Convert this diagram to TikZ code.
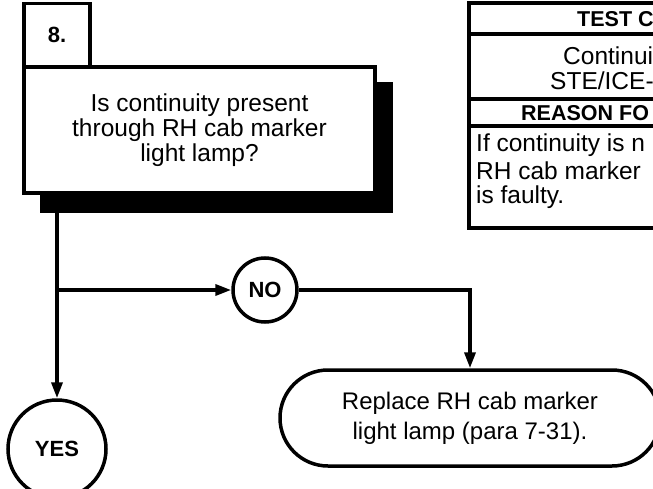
\documentclass[tikz,border=0pt]{standalone}
\usepackage{fontspec}
\setmainfont{Liberation Sans}
\usetikzlibrary{arrows.meta}
\begin{document}
\begin{tikzpicture}[x=1pt,y=-1pt,
  ln/.style={line width=3.5pt},
  arr/.style={line width=3.5pt,-{Triangle[length=16pt,width=11pt]}},
  txt/.style={font=\fontsize{24.5}{25}\selectfont, align=center},
  txtb/.style={font=\fontsize{24}{30}\selectfont, align=center},
  bld/.style={font=\fontsize{22}{25}\selectfont\bfseries},
  box/.style={draw, line width=3.5pt, fill=white, inner sep=0pt},
  circ/.style={circle, draw, line width=3.5pt, fill=white, inner sep=0pt, font=\fontsize{22}{25}\selectfont\bfseries},
  tb/.style={anchor=west, inner sep=0pt, font=\fontsize{24.5}{25}\selectfont},
  tbh/.style={anchor=west, inner sep=0pt, font=\fontsize{21.5}{25}\selectfont\bfseries}
]
\useasboundingbox (0,0) rectangle (653,489);
\clip (0,0) rectangle (653,489);
% question block
\node[fill=black, inner sep=0pt, minimum width=353pt, minimum height=131pt] (sh) at (216.5,147.5) {};
\node[box, minimum width=351pt, minimum height=126pt, txt] (q) at (199.5,130)
  {Is continuity present\\through RH cab marker\\light lamp?};
\node[box, minimum width=66pt, minimum height=63.5pt, bld] (num) at (57,35.25) {8.};
% circles and action
\node[circ, minimum size=64pt] (no) at (265,290) {NO};
\node[circ, minimum size=98pt] (yes) at (57,449) {YES};
\node[box, rounded corners=48pt, minimum width=380pt, minimum height=96pt, txtb] (rep) at (470,418)
  {Replace RH cab marker\\light lamp (para 7-31).};
% connectors
\coordinate (j) at (57,290);
\draw[arr] (sh.south -| yes.north) -- (yes.north);
\draw[arr] (j) -- (no.west);
\draw[arr] (no.east) -| (rep.north);
% test table
\draw[line width=4pt] (469,3) rectangle (720,228);
\draw[ln] (469,34) -- (720,34);
\draw[ln] (469,99) -- (720,99);
\draw[ln] (469,126) -- (720,126);
\node[tbh] (t1) at (577,19) {TEST C};
\node[tb] (t2) at (563,56) {Continui};
\node[tb] (t3) at (550,81) {STE/ICE-};
\node[tbh] (t4) at (521,113) {REASON FO};
\node[tb] (t5) at (476,145) {If continuity is n};
\node[tb] (t6) at (476,171) {RH cab marker};
\node[tb] (t7) at (476,197) {is faulty.};
\end{tikzpicture}
\end{document}
